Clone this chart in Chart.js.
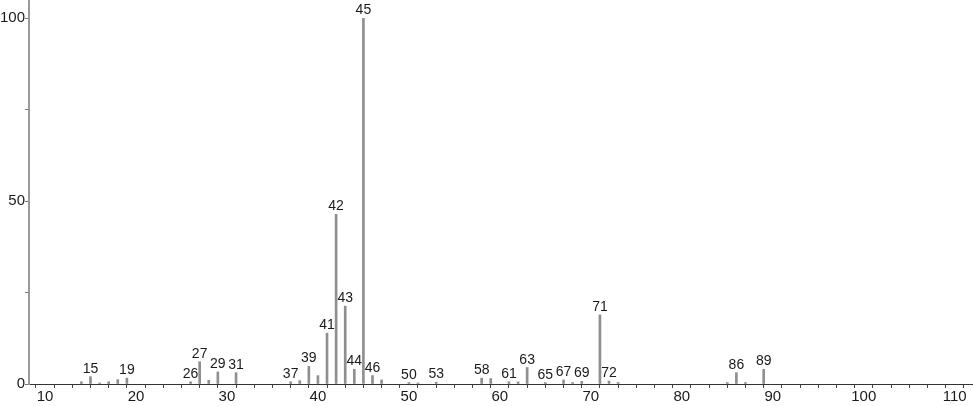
<!DOCTYPE html>
<html>
<head>
<meta charset="utf-8">
<script src="https://cdn.jsdelivr.net/npm/chart.js@4/dist/chart.umd.min.js"></script>
<style>
html,body{margin:0;padding:0;background:#fff;}
#wrap{width:974px;height:406px;position:relative;}
</style>
</head>
<body>
<div id="wrap"><canvas id="c" width="974" height="406"></canvas></div>
<script>
// m/z values and relative intensities (%)
const mzValues = [14,15,16,17,18,19,26,27,28,29,31,37,38,39,40,41,42,43,44,45,46,47,50,51,53,58,59,61,62,63,65,67,68,69,71,72,73,85,86,87,89];
const intensities = [0.6,2.0,0.3,0.6,1.2,1.6,0.6,6.1,1.0,3.3,3.1,0.6,0.9,4.8,2.3,13.9,46.4,21.3,4.0,100,2.3,1.1,0.4,0.3,0.5,1.6,1.5,0.6,0.6,4.5,0.4,1.1,0.4,0.7,18.9,0.8,0.4,0.4,3.1,0.4,4.0];
const labeledPeaks = [15,19,26,27,29,31,37,39,41,42,43,44,45,46,50,53,58,61,63,65,67,69,71,72,86,89];
const xTickLabels = [10,20,30,40,50,60,70,80,90,100,110];
const yTickLabels = [0,50,100];

const FONT = '"Liberation Sans", Arial, sans-serif';

const peakLabelPlugin = {
  id: 'peakLabels',
  afterDatasetsDraw(chart) {
    const ctx = chart.ctx;
    const meta = chart.getDatasetMeta(0);
    ctx.save();
    ctx.font = '14px ' + FONT;
    ctx.fillStyle = '#1a1a1a';
    ctx.textAlign = 'center';
    ctx.textBaseline = 'alphabetic';
    mzValues.forEach((mz, i) => {
      if (!labeledPeaks.includes(mz)) return;
      const el = meta.data[i];
      ctx.fillText(String(mz), el.x, el.y - 4);
    });
    ctx.restore();
  }
};

new Chart(document.getElementById('c'), {
  type: 'bar',
  data: {
    datasets: [{
      data: mzValues.map((m, i) => ({x: m, y: intensities[i]})),
      backgroundColor: '#8f8f8f',
      borderWidth: 0,
      barThickness: 2
    }]
  },
  options: {
    responsive: false,
    animation: false,
    maintainAspectRatio: false,
    layout: {padding: {left: 0, right: 2, top: 0, bottom: 0}},
    plugins: {legend: {display: false}, tooltip: {enabled: false}},
    scales: {
      x: {
        type: 'linear',
        offset: false,
        min: 8.24,
        max: 111.9,
        afterBuildTicks(scale) {
          const t = [];
          for (let v = 10; v <= 110; v += 2) t.push({value: v});
          scale.ticks = t;
        },
        afterFit(scale) { scale.height = 22; scale.paddingLeft = 0; scale.paddingRight = 0; },
        border: {display: true, color: '#333', width: 1},
        grid: {drawOnChartArea: false, drawTicks: true, tickLength: 4, tickColor: '#444', tickWidth: 1},
        ticks: {
          autoSkip: false,
          maxRotation: 0,
          padding: 0,
          color: '#1a1a1a',
          font: {family: FONT, size: 15},
          callback: (v) => xTickLabels.includes(v) ? String(v) : ''
        }
      },
      y: {
        min: 0,
        max: 105,
        afterBuildTicks(scale) {
          scale.ticks = [0,25,50,75,100].map(v => ({value: v}));
        },
        afterFit(scale) { scale.width = 29; scale.paddingTop = 0; scale.paddingBottom = 0; },
        border: {display: true, color: '#9a9a9a', width: 2},
        grid: {drawOnChartArea: false, drawTicks: true, tickLength: 4, tickColor: '#777', tickWidth: 1},
        ticks: {
          padding: 0,
          color: '#1a1a1a',
          font: {family: FONT, size: 15},
          callback: (v) => yTickLabels.includes(v) ? String(v) : ''
        }
      }
    }
  },
  plugins: [peakLabelPlugin]
});
</script>
</body>
</html>
